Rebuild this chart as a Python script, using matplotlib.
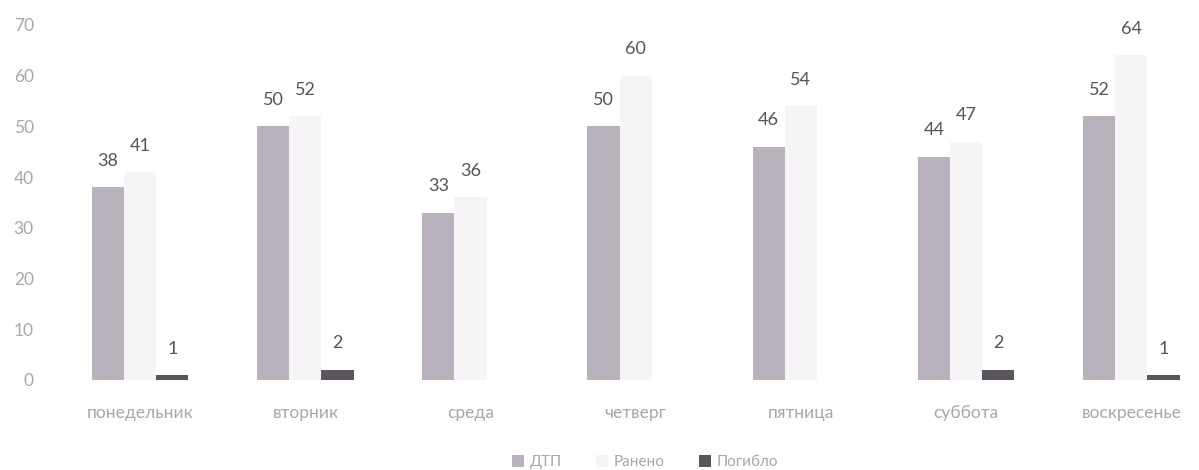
import numpy as np
from matplotlib import pyplot as plt

days = ["понедельник", "вторник", "среда", "четверг", "пятница", "суббота", "воскресенье"]
dtp = [38, 50, 33, 50, 46, 44, 52]
injured = [41, 52, 36, 60, 54, 47, 64]
killed = [1, 2, 0, 0, 0, 2, 1]

series_names = ["ДТП", "Ранено", "Погибло"]
series_colors = ["#b9b1bc", "#f6f4f7", "#5b565e"]

plt.rcParams["font.family"] = ["Lato", "DejaVu Sans"]

fig = plt.figure(figsize=(11.99, 4.70), dpi=100)
# axes left edge at category -0.5, right side runs off the figure like the scan
ax = fig.add_axes([57.5 / 1199, 90 / 470, (1199 - 57.5) / 1199, 355 / 470])

x = np.arange(len(days))
width = 0.195
for k, (vals, name, col) in enumerate(zip([dtp, injured, killed], series_names, series_colors)):
    pos = x + (k - 1) * width
    ax.bar(pos, vals, width=width, color=col, label=name, linewidth=0)
    for xp, v in zip(pos, vals):
        if v == 0:
            continue
        ax.annotate(str(v), (xp, v), xytext=(0, 19), textcoords="offset points",
                    ha="center", va="center", fontsize=13, color="#555555")

ax.set_xlim(-0.5, 6.41)
ax.set_ylim(0, 70)
ax.set_yticks(range(0, 71, 10))
ax.set_xticks(x)
ax.set_xticklabels(days)

for side in ["top", "right", "left", "bottom"]:
    ax.spines[side].set_visible(False)
ax.tick_params(axis="both", length=0, colors="#a8a8a8", labelsize=12.5)
ax.tick_params(axis="x", pad=18)
ax.tick_params(axis="y", pad=17)

fig.legend(loc="center", bbox_to_anchor=(645 / 1199, 8 / 470), ncol=3, frameon=False,
           fontsize=11, labelcolor="#a8a8a8", handlelength=0.8, handleheight=0.8,
           handletextpad=0.4, columnspacing=2.2)

plt.savefig("out.png", dpi=100)
plt.close()
